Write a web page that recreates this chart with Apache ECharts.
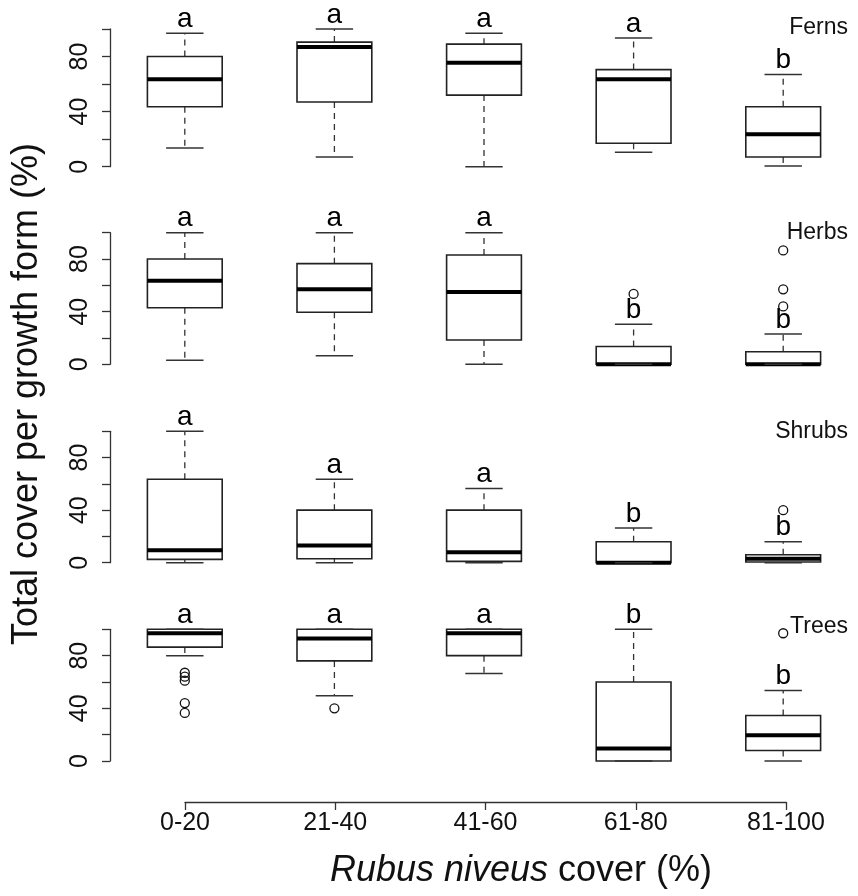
<!DOCTYPE html>
<html>
<head>
<meta charset="utf-8">
<script src="https://cdn.jsdelivr.net/npm/echarts@6/dist/echarts.min.js"></script>
<style>
  html, body { margin: 0; padding: 0; background: #fff; }
  #main { width: 858px; height: 896px; }
</style>
</head>
<body>
<div id="main"></div>
<script>
const categories = ['0-20', '21-40', '41-60', '61-80', '81-100'];
const panelNames = ['Ferns', 'Herbs', 'Shrubs', 'Trees'];
const yTicks = [0, 40, 80];

// box stats per class: [lower whisker, Q1, median, Q3, upper whisker]
const fernsBox = [[13.5, 43.5, 63.5, 80, 97], [7, 47, 87, 90.5, 100], [0, 52, 75.5, 89, 97], [10.5, 17, 63.5, 70.5, 93.5], [0.5, 7, 23.5, 43.5, 67]];
const herbsBox = [[3, 43, 63.5, 80, 100], [6.5, 39.5, 57, 76.5, 100], [0, 18.5, 55, 83, 100], [0, 0, 0, 13.5, 30.5], [0, 0, 0, 9.5, 23]];
const shrubsBox = [[0, 2.5, 9.5, 63.5, 100], [0, 3, 13, 40, 63.5], [0, 1, 8, 40, 56.5], [0, 0, 0, 16, 26.5], [0, 0.5, 3, 6, 16]];
const treesBox = [[80, 86.5, 97, 100, 100], [49.5, 76, 93, 100, 100], [66.5, 80, 97, 100, 100], [0, 0, 9.5, 60, 100], [0, 8, 19.5, 34.5, 53.5]];

// outliers: [class index, value]
const fernsOut = [];
const herbsOut = [[3, 53.5], [4, 86.5], [4, 57], [4, 44]];
const shrubsOut = [[4, 40]];
const treesOut = [[0, 67], [0, 64], [0, 61], [0, 44], [0, 36.5], [1, 40], [4, 97]];

// letters of significance groups
const fernsLetters = ['a', 'a', 'a', 'a', 'b'];
const herbsLetters = ['a', 'a', 'a', 'b', 'b'];
const shrubsLetters = ['a', 'a', 'a', 'b', 'b'];
const treesLetters = ['a', 'a', 'a', 'b', 'b'];

const boxes = [fernsBox, herbsBox, shrubsBox, treesBox];
const outs = [fernsOut, herbsOut, shrubsOut, treesOut];
const letters = [fernsLetters, herbsLetters, shrubsLetters, treesLetters];

// panel layout (pixels)
const panelTop = [29, 232.7, 431.3, 629.3];
const panelHeight = [137.7, 131.6, 131.4, 131.7];
const labelY = [28, 233, 432, 627];

const font = '"Liberation Sans", Arial, Helvetica, sans-serif';

function renderBox(params, api) {
  const i = api.value(0);
  const lo = api.coord([i, api.value(1)]);
  const q1 = api.coord([i, api.value(2)]);
  const md = api.coord([i, api.value(3)]);
  const q3 = api.coord([i, api.value(4)]);
  const hi = api.coord([i, api.value(5)]);
  const w = api.size([1, 0])[0] * 0.5;
  const cx = lo[0];
  const cap = w / 4;
  const dash = { stroke: '#333', lineWidth: 1.3, lineDash: [6, 5] };
  const solid = { stroke: '#333', lineWidth: 1.5 };
  return {
    type: 'group',
    children: [
      { type: 'line', shape: { x1: cx, y1: q3[1], x2: cx, y2: hi[1] }, style: dash },
      { type: 'line', shape: { x1: cx, y1: q1[1], x2: cx, y2: lo[1] }, style: dash },
      { type: 'rect', shape: { x: cx - w / 2, y: q3[1], width: w, height: q1[1] - q3[1] },
        style: { fill: '#fff', stroke: '#222', lineWidth: 1.6 } },
      { type: 'line', shape: { x1: cx - w / 2, y1: md[1], x2: cx + w / 2, y2: md[1] },
        style: { stroke: '#000', lineWidth: 4 } },
      { type: 'line', shape: { x1: cx - cap, y1: hi[1], x2: cx + cap, y2: hi[1] }, style: solid },
      { type: 'line', shape: { x1: cx - cap, y1: lo[1], x2: cx + cap, y2: lo[1] }, style: solid }
    ]
  };
}

const grids = [], xAxes = [], yAxes = [], series = [];

panelNames.forEach(function (name, p) {
  grids.push({ left: 110, width: 750, top: panelTop[p], height: panelHeight[p] });
  xAxes.push({ type: 'category', gridIndex: p, data: categories, show: false });
  yAxes.push({
    type: 'value', gridIndex: p, min: 0, max: 100, interval: 20,
    axisLine: { show: true, lineStyle: { color: '#333', width: 1.3 } },
    axisTick: { show: true, length: 8, lineStyle: { color: '#333', width: 1.3 } },
    splitLine: { show: false },
    axisLabel: {
      rotate: 90, margin: 17, fontSize: 25, color: '#111', fontFamily: font,
      formatter: function (v) { return yTicks.indexOf(v) >= 0 ? String(v) : ''; }
    }
  });
  series.push({
    type: 'custom', xAxisIndex: p, yAxisIndex: p,
    renderItem: renderBox,
    encode: { x: 0, y: [1, 2, 3, 4, 5] },
    data: boxes[p].map(function (b, i) { return [i].concat(b); }),
    clip: false
  });
  series.push({
    type: 'scatter', xAxisIndex: p, yAxisIndex: p,
    symbol: 'circle', symbolSize: 9,
    itemStyle: { color: 'rgba(0,0,0,0)', borderColor: '#111', borderWidth: 1.3, opacity: 1 },
    data: outs[p],
    clip: false, z: 5
  });
  series.push({
    type: 'scatter', xAxisIndex: p, yAxisIndex: p,
    symbolSize: 0,
    itemStyle: { opacity: 1 },
    data: boxes[p].map(function (b, i) { return [i, b[4], letters[p][i]]; }),
    label: {
      show: true, position: 'inside', offset: [0, -14],
      fontSize: 28, color: '#000', fontFamily: font,
      formatter: function (d) { return d.value[2]; }
    },
    clip: false, z: 6
  });
});

// shared bottom axis
grids.push({ left: 185, width: 601, top: 801, height: 1 });
xAxes.push({
  type: 'category', gridIndex: 4, data: categories, boundaryGap: false,
  axisLine: { show: true, lineStyle: { color: '#333', width: 1.3 } },
  axisTick: { show: true, length: 8, lineStyle: { color: '#333', width: 1.3 } },
  axisLabel: { fontSize: 25, color: '#111', margin: 9, fontFamily: font, interval: 0 }
});
yAxes.push({ type: 'value', gridIndex: 4, show: false });

const graphics = panelNames.map(function (name, p) {
  return {
    type: 'text', x: 848, y: labelY[p],
    style: { text: name, font: '23px ' + font, fill: '#111', textAlign: 'right', textVerticalAlign: 'middle' }
  };
});
graphics.push({
  type: 'text', x: 27, y: 394, rotation: Math.PI / 2,
  style: { text: 'Total cover per growth form (%)', font: '36px ' + font, fill: '#111', textAlign: 'center', textVerticalAlign: 'middle' }
});
graphics.push({
  type: 'text', x: 521, y: 871,
  style: {
    text: '{i|Rubus niveus} cover (%)',
    font: '36px ' + font, fill: '#111', textAlign: 'center', textVerticalAlign: 'middle',
    rich: { i: { fontStyle: 'italic', fontSize: 36, fontFamily: font, fill: '#111' } }
  }
});

let chart = echarts.init(document.getElementById('main'), null, { renderer: 'canvas' });
chart.setOption({
  animation: false,
  backgroundColor: '#fff',
  grid: grids,
  xAxis: xAxes,
  yAxis: yAxes,
  series: series,
  graphic: graphics
});
</script>
</body>
</html>
